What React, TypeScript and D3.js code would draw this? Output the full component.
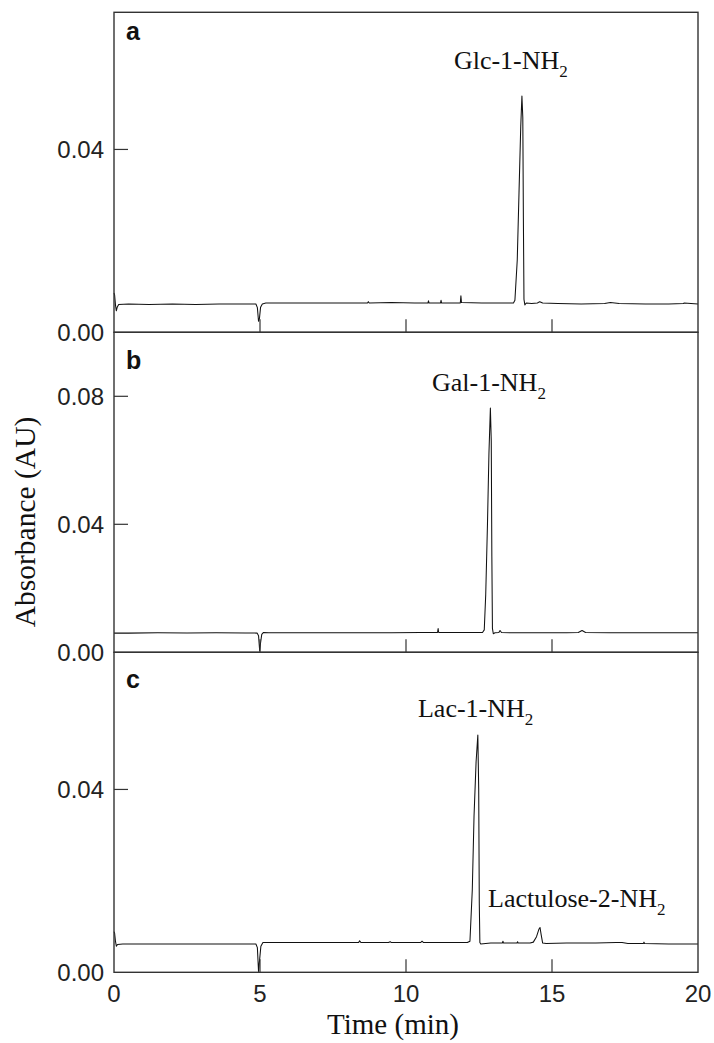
import React from "react";
import * as d3 from "d3";

type Pt = [number, number];

// Retention time axis (min)
const timeTicks = [0, 5, 10, 15, 20];

// Chromatogram traces: [time (min), absorbance (AU)]
const glcTrace: Pt[] = [
  [0.0, 0.0086], [0.02, 0.0082], [0.05, 0.006], [0.08, 0.0047], [0.11, 0.0055], [0.16, 0.0061],
  [0.5, 0.0062], [1.2, 0.0061], [2.0, 0.0062], [2.8, 0.0061], [3.6, 0.0062], [4.4, 0.0062],
  [4.86, 0.0062], [4.91, 0.0054], [4.95, 0.0024], [4.98, 0.003], [5.02, 0.0055], [5.08, 0.0062],
  [5.2, 0.0064], [6.0, 0.0064], [7.0, 0.0064], [8.0, 0.0064], [8.68, 0.0064], [8.71, 0.0067],
  [8.74, 0.0064], [9.5, 0.0065], [10.3, 0.0064], [10.75, 0.0064], [10.77, 0.0069], [10.79, 0.0064],
  [11.18, 0.0064], [11.2, 0.007], [11.22, 0.0064], [11.86, 0.0064], [11.88, 0.008], [11.9, 0.0065],
  [12.6, 0.0064], [13.4, 0.0064], [13.68, 0.0064], [13.73, 0.007], [13.81, 0.0158], [13.87, 0.0305],
  [13.93, 0.0451], [13.97, 0.0517], [14.0, 0.047], [14.02, 0.025], [14.04, 0.0072], [14.07, 0.006],
  [14.12, 0.0064], [14.3, 0.0063], [14.5, 0.0064], [14.58, 0.0067], [14.68, 0.0064], [15.2, 0.0063],
  [16.0, 0.0062], [16.8, 0.0063], [17.0, 0.0065], [17.3, 0.0063], [18.2, 0.0062], [19.0, 0.0062],
  [19.5, 0.0063], [19.52, 0.0064], [20.0, 0.0062],
];

const galTrace: Pt[] = [
  [0, 0.006], [0.5, 0.006], [1.5, 0.0061], [2.5, 0.006], [3.5, 0.0061], [4.5, 0.006],
  [4.9, 0.006], [4.95, 0.0052], [4.99, 0.0004], [5.02, 0.003], [5.06, 0.0056], [5.12, 0.0062],
  [5.3, 0.0061], [6.5, 0.0061], [8, 0.0061], [9.5, 0.0061], [10.5, 0.0062], [11.08, 0.0062],
  [11.1, 0.0074], [11.12, 0.0062], [11.8, 0.0062], [12.4, 0.0062], [12.62, 0.0062], [12.68, 0.007],
  [12.73, 0.018], [12.79, 0.04], [12.84, 0.062], [12.89, 0.0763], [12.92, 0.066], [12.94, 0.03],
  [12.96, 0.0075], [12.99, 0.0058], [13.05, 0.0061], [13.18, 0.0062], [13.22, 0.0068], [13.27, 0.0062],
  [13.6, 0.0061], [14.5, 0.0061], [15.5, 0.0061], [15.9, 0.0062], [16.03, 0.0068], [16.15, 0.0062],
  [17, 0.0061], [18, 0.0061], [19, 0.0061], [20, 0.0061],
];

const lacTrace: Pt[] = [
  [0, 0.0089], [0.02, 0.0086], [0.05, 0.0068], [0.08, 0.0057], [0.12, 0.0061], [0.3, 0.0062],
  [1, 0.0062], [2, 0.0062], [3, 0.0062], [4, 0.0062], [4.86, 0.0062], [4.91, 0.0054],
  [4.95, 0.0002], [4.99, 0.003], [5.03, 0.0057], [5.1, 0.0065], [5.3, 0.0065], [6.5, 0.0065],
  [7.5, 0.0065], [8.38, 0.0065], [8.41, 0.0069], [8.46, 0.0065], [9.4, 0.0065], [9.46, 0.0067],
  [9.5, 0.0065], [10.5, 0.0065], [10.55, 0.0068], [10.6, 0.0065], [11.5, 0.0065], [12.1, 0.0065],
  [12.19, 0.0068], [12.27, 0.018], [12.33, 0.0342], [12.4, 0.046], [12.46, 0.0519], [12.49, 0.04],
  [12.51, 0.015], [12.53, 0.0065], [12.56, 0.0062], [12.9, 0.0064], [13.3, 0.0064], [13.32, 0.0068],
  [13.34, 0.0064], [13.8, 0.0064], [13.82, 0.0067], [13.84, 0.0064], [14.25, 0.0064], [14.36, 0.0066],
  [14.47, 0.0078], [14.55, 0.0094], [14.59, 0.0098], [14.63, 0.0082], [14.68, 0.0064], [14.8, 0.0063],
  [15.5, 0.0064], [16.5, 0.0064], [17.2, 0.0065], [17.4, 0.0065], [17.6, 0.0063], [18.13, 0.0063],
  [18.15, 0.0066], [18.17, 0.0063], [19, 0.0062], [20, 0.0062],
];

// Y-axis ranges and ticks (AU)
const glcYMax = 0.07;
const galYMax = 0.1;
const lacYMax = 0.07;
const glcYTicks = [0, 0.04];
const galYTicks = [0, 0.04, 0.08];
const lacYTicks = [0, 0.04];

// Peak annotations: main text, subscript, anchor (time, absorbance) of text start/baseline
const glcLabels = [{ text: "Glc-1-NH", sub: "2", t: 11.64, v: 0.0576 }];
const galLabels = [{ text: "Gal-1-NH", sub: "2", t: 10.89, v: 0.0817 }];
const lacLabels = [
  { text: "Lac-1-NH", sub: "2", t: 10.41, v: 0.0558 },
  { text: "Lactulose-2-NH", sub: "2", t: 12.81, v: 0.0143 },
];

const panels = [
  { letter: "a", trace: glcTrace, yMax: glcYMax, yTicks: glcYTicks, labels: glcLabels, letterDy: 28 },
  { letter: "b", trace: galTrace, yMax: galYMax, yTicks: galYTicks, labels: galLabels, letterDy: 37 },
  { letter: "c", trace: lacTrace, yMax: lacYMax, yTicks: lacYTicks, labels: lacLabels, letterDy: 35.5 },
];

const W = 714;
const H = 1043;
const left = 114;
const right = 698;
const top0 = 12.3;
const panelH = 320;

const sans = "'Liberation Sans', Arial, Helvetica, sans-serif";
const serif = "'Liberation Serif', 'Times New Roman', Times, serif";

export default function App() {
  const x = d3.scaleLinear().domain([0, 20]).range([left, right]);
  const fmt = d3.format(".2f");
  const frame = "#333";

  return (
    <svg
      width={W}
      height={H}
      viewBox={`0 0 ${W} ${H}`}
      style={{ position: "absolute", left: 0, top: 0, display: "block", background: "#fff" }}
    >
      <rect x={0} y={0} width={W} height={H} fill="#fff" />
      {panels.map((p, i) => {
        const y0 = top0 + i * panelH;
        const y1 = y0 + panelH;
        const y = d3.scaleLinear().domain([0, p.yMax]).range([y1, y0]);
        const line = d3
          .line<Pt>()
          .x((d) => x(d[0]))
          .y((d) => y(d[1]))
          .curve(d3.curveLinear);
        return (
          <g key={p.letter}>
            <path d={line(p.trace) || ""} fill="none" stroke="#111" strokeWidth={1.05} strokeLinejoin="round" />
            {/* inner x ticks */}
            {timeTicks
              .filter((t) => t > 0 && t < 20)
              .map((t) => (
                <line key={t} x1={x(t)} x2={x(t)} y1={y1} y2={y1 - 13} stroke={frame} strokeWidth={1.2} />
              ))}
            {/* inner y ticks and labels */}
            {p.yTicks.map((v) => (
              <g key={v}>
                {v > 0 && (
                  <line x1={left} x2={left + 14} y1={y(v)} y2={y(v)} stroke={frame} strokeWidth={1.2} />
                )}
                <text
                  x={left - 10}
                  y={y(v)}
                  dy="0.36em"
                  textAnchor="end"
                  fontFamily={sans}
                  fontSize={24}
                  fill="#222"
                >
                  {fmt(v)}
                </text>
              </g>
            ))}
            <rect
              x={left}
              y={y0}
              width={right - left}
              height={panelH}
              fill="none"
              stroke={frame}
              strokeWidth={1.4}
            />
            <text x={126} y={y0 + p.letterDy} fontFamily={sans} fontWeight="bold" fontSize={25} fill="#111">
              {p.letter}
            </text>
            {p.labels.map((l) => (
              <text key={l.text} x={x(l.t)} y={y(l.v)} fontFamily={serif} fontSize={26} fill="#111">
                {l.text}
                <tspan dy={8} fontSize={17}>
                  {l.sub}
                </tspan>
              </text>
            ))}
          </g>
        );
      })}
      {/* x tick labels */}
      {timeTicks.map((t) => (
        <text
          key={t}
          x={x(t)}
          y={top0 + 3 * panelH + 30}
          textAnchor="middle"
          fontFamily={sans}
          fontSize={24}
          fill="#222"
        >
          {t}
        </text>
      ))}
      <text x={393} y={1034} textAnchor="middle" fontFamily={serif} fontSize={29} fill="#111">
        Time (min)
      </text>
      <text
        transform={`translate(35, 522) rotate(-90)`}
        textAnchor="middle"
        fontFamily={serif}
        fontSize={29.5}
        fill="#111"
      >
        Absorbance (AU)
      </text>
    </svg>
  );
}
